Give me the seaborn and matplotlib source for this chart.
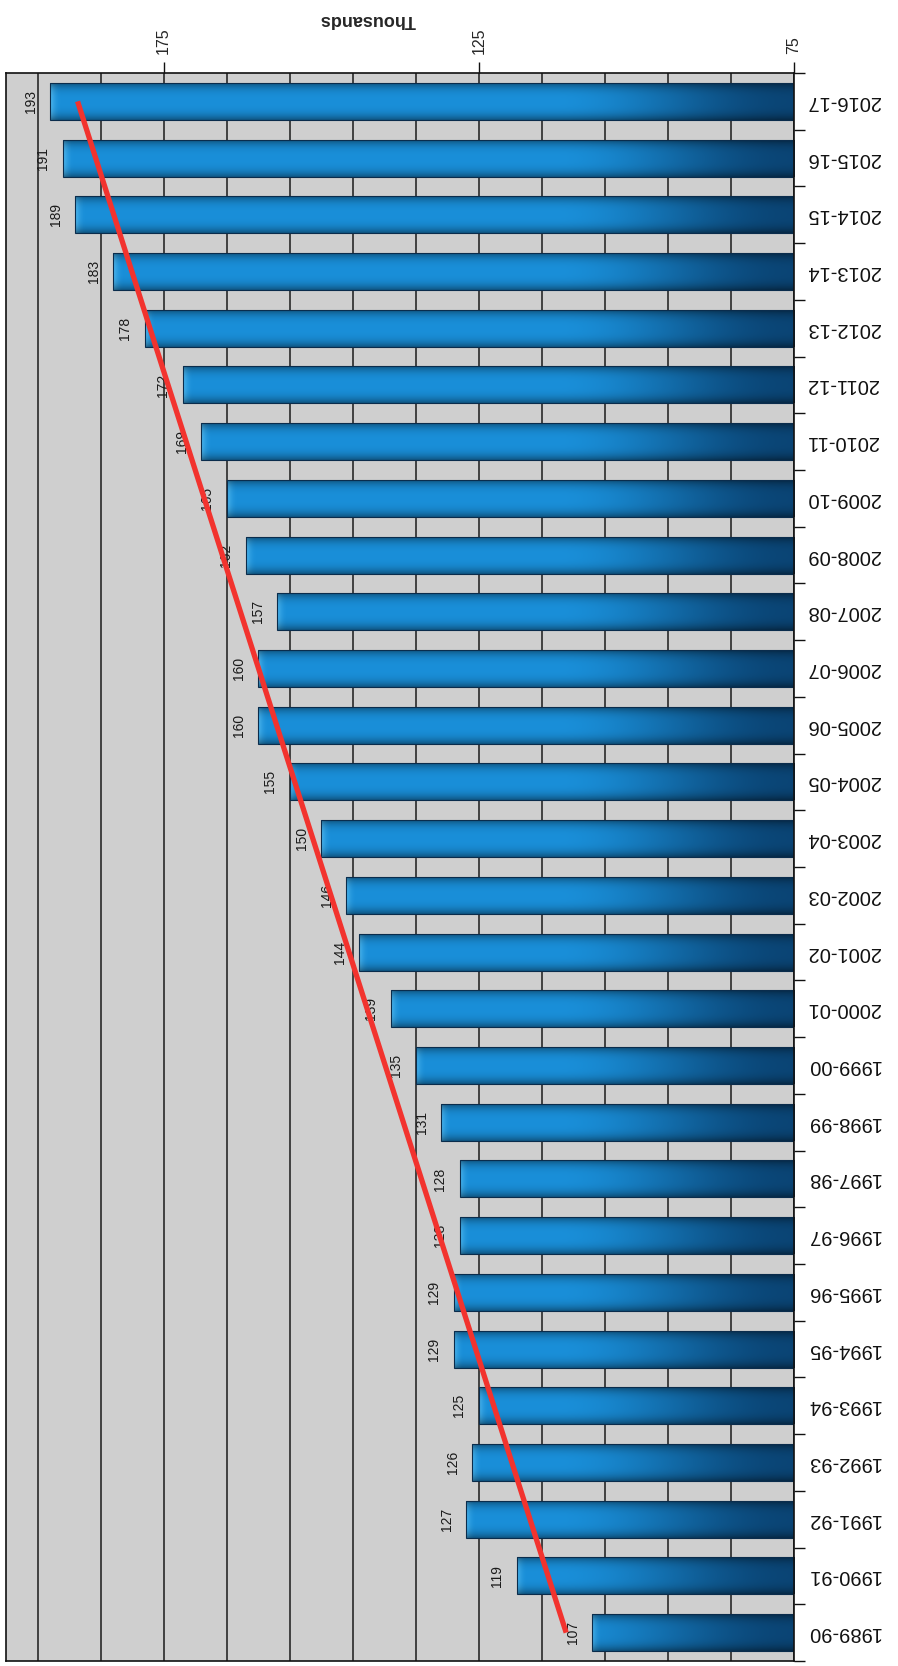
import numpy as np
import pandas as pd

import matplotlib
matplotlib.use("Agg")

import matplotlib.pyplot as plt
from matplotlib.ticker import FixedLocator
import seaborn as sns

# données (milliers)
years = ["1989-90", "1990-91", "1991-92", "1992-93", "1993-94", "1994-95",
         "1995-96", "1996-97", "1997-98", "1998-99", "1999-00", "2000-01",
         "2001-02", "2002-03", "2003-04", "2004-05", "2005-06", "2006-07",
         "2007-08", "2008-09", "2009-10", "2010-11", "2011-12", "2012-13",
         "2013-14", "2014-15", "2015-16", "2016-17"]
values = [107, 119, 127, 126, 125, 129, 129, 128, 128, 131, 135, 139,
          144, 146, 150, 155, 160, 160, 157, 162, 165, 169, 172, 178,
          183, 189, 191, 193]
major_ticks = [75, 125, 175]
axis_label = "Thousands"

sns.set_style("white")
plt.rcParams['font.family'] = ['Liberation Sans', 'DejaVu Sans']

df = pd.DataFrame({"year": years, "value": values})
order = years[::-1]  # 2016-17 en haut
X_MIN, X_MAX = 75, 200

fig = plt.figure(figsize=(8.98, 16.66), dpi=100)
ax = fig.add_axes([6 / 898, 5 / 1666, 788 / 898, 1588 / 1666])
ax.set_facecolor('#cfcfcf')

sns.barplot(data=df, x="value", y="year", order=order, orient="h",
            width=0.65, color="#1e90d8", ax=ax, zorder=2)

# dégradé "3D" dans chaque barre
dark = np.array([0.04, 0.27, 0.46])
bright = np.array([0.10, 0.56, 0.85])
tip_col = np.array([0.42, 0.80, 0.97])
for p in ax.patches:
    v = p.get_width()
    y0, h = p.get_y(), p.get_height()
    xs = np.linspace(X_MIN, v, 300)
    t = np.clip((xs - X_MIN) / 38, 0, 1)
    t = t * t * (3 - 2 * t)
    col = dark + (bright - dark) * t[:, None]
    tip = np.clip(1 - (v - xs) / 1.5, 0, 1) ** 2
    col = col + (tip_col - col) * (0.55 * tip[:, None])
    u = np.linspace(0, 1, 60)
    shade = 1 - 0.40 * np.abs(2 * u - 1) ** 3
    img = np.clip(col[None, :, :] * shade[:, None, None], 0, 1)
    im = ax.imshow(img, extent=(X_MIN, v, y0, y0 + h), origin='lower',
                   aspect='auto', interpolation='bilinear', zorder=2)
    im.set_clip_path(p)
    p.set_facecolor('none')
    p.set_edgecolor('#0a2c4c')
    p.set_linewidth(0.8)
    p.set_zorder(2.5)

# tendance linéaire
idx = np.arange(len(values))
slope, intercept = np.polyfit(idx, values, 1)
trend = intercept + slope * idx
ypos = [order.index(y) for y in years]
ax.plot(trend, ypos, color='#f2332e', lw=3.8, zorder=5, solid_capstyle='butt')

# étiquettes de valeurs
for v, y in zip(values, ypos):
    ax.annotate(f"{v}", xy=(v, y), xytext=(-14, 0), textcoords='offset points',
                rotation=90, ha='center', va='center', fontsize=10,
                color='#1a1a1a', zorder=4)

ax.set_xlim(X_MAX, X_MIN)
ax.set_ylim(len(order) - 0.5, -0.5)

# axe X en haut
ax.xaxis.tick_top()
ax.set_xticks(major_ticks)
ax.xaxis.set_minor_locator(FixedLocator(np.arange(X_MIN, X_MAX, 10)))
ax.grid(which='both', axis='x', color='#1a1a1a', lw=1.1)
ax.grid(which='both', axis='y', visible=False)
ax.set_axisbelow(True)
ax.tick_params(axis='x', which='major', top=True, bottom=False, length=8,
               width=1, labelsize=11.5, labelrotation=90, pad=6, color='#111')
ax.tick_params(axis='x', which='minor', length=0)
ax.set_xlabel(axis_label, fontsize=13, fontweight='bold', rotation=180)
ax.xaxis.set_label_position('top')
ax.xaxis.set_label_coords(0.459, 1.034)
ax.xaxis.label.set_va('center')
ax.xaxis.label.set_ha('center')

# axe Y à droite, texte retourné
ax.yaxis.tick_right()
ax.yaxis.set_minor_locator(FixedLocator(np.arange(-0.5, len(order), 1)))
ax.tick_params(axis='y', which='major', length=0, pad=9, labelsize=14.5,
               labelrotation=180, labelcolor='#111')
ax.tick_params(axis='y', which='minor', right=True, left=False, length=8,
               width=1, color='#111')
for lbl in ax.get_yticklabels():
    lbl.set_va('center')
ax.set_ylabel('')

for s in ax.spines.values():
    s.set_visible(True)
    s.set_color('#111')
    s.set_linewidth(1.2)

plt.savefig("out.png", dpi=100)
plt.close()
